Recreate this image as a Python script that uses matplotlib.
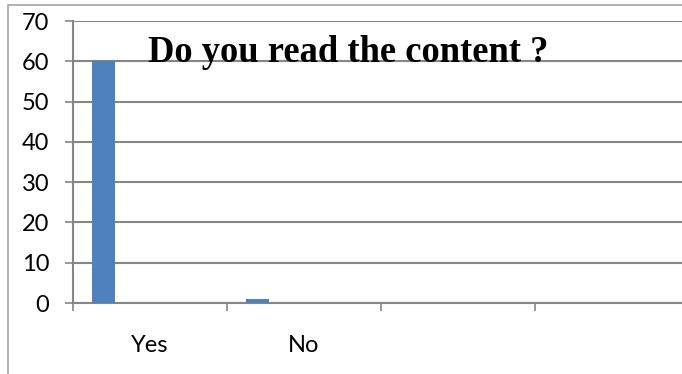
import matplotlib
matplotlib.use("Agg")
import matplotlib.pyplot as plt
from matplotlib.patches import Rectangle

# survey answers
categories = ["Yes", "No"]
counts = [60, 1]
n_slots = 4          # category slots on the x axis (last two unused)
y_ticks = [0, 10, 20, 30, 40, 50, 60, 70]

BAR_COLOR = "#4f81bd"
GRID_COLOR = "#868686"

fig = plt.figure(figsize=(6.82, 3.74), dpi=100)

# light frame around the chart area (runs off the right and bottom edges)
fig.add_artist(Rectangle((8 / 682, -0.1), 1.2, (374 - 5) / 374 + 0.1,
                         transform=fig.transFigure, fill=False,
                         edgecolor="#a6a6a6", lw=1.2))

left, right = 73 / 682, 1.0
bottom, top = 1 - 303 / 374, 1 - 21 / 374
ax = fig.add_axes([left, bottom, right - left, top - bottom])

slot_px = 154
ax.set_xlim(0, (682 - 73) / slot_px)
ax.set_ylim(0, 70)

bar_offset = (92 + 115) / 2 - 73
xs = [i + bar_offset / slot_px for i in range(len(categories))]
ax.bar(xs, counts, width=23 / slot_px, color=BAR_COLOR, zorder=3)

# gridlines
ax.set_yticks(y_ticks)
ax.yaxis.grid(True, color=GRID_COLOR, lw=1.5, zorder=0)
ax.set_axisbelow(True)

for s in ["top", "right"]:
    ax.spines[s].set_visible(False)
for s in ["left", "bottom"]:
    ax.spines[s].set_color(GRID_COLOR)
    ax.spines[s].set_linewidth(1.5)

ax.tick_params(axis="y", length=6, width=1.2, color=GRID_COLOR,
               labelsize=17, pad=11)
ax.set_yticklabels([str(v) for v in y_ticks], fontfamily="Lato")

# tick marks at slot boundaries, labels at slot centres
ax.set_xticks(range(n_slots), minor=True)
ax.set_xticks([i + 0.5 for i in range(len(categories))])
ax.set_xticklabels(categories, fontfamily="Lato", fontsize=17)
ax.tick_params(axis="x", which="major", length=0, pad=23)
ax.tick_params(axis="x", which="minor", length=6, width=1.2,
               color=GRID_COLOR)

fig.text(148 / 682, 1 - 62 / 374, "Do you read the content ?",
         ha="left", va="baseline", fontfamily="Liberation Serif",
         fontweight="bold", fontsize=26.3)

fig.savefig("out.png", dpi=100)
